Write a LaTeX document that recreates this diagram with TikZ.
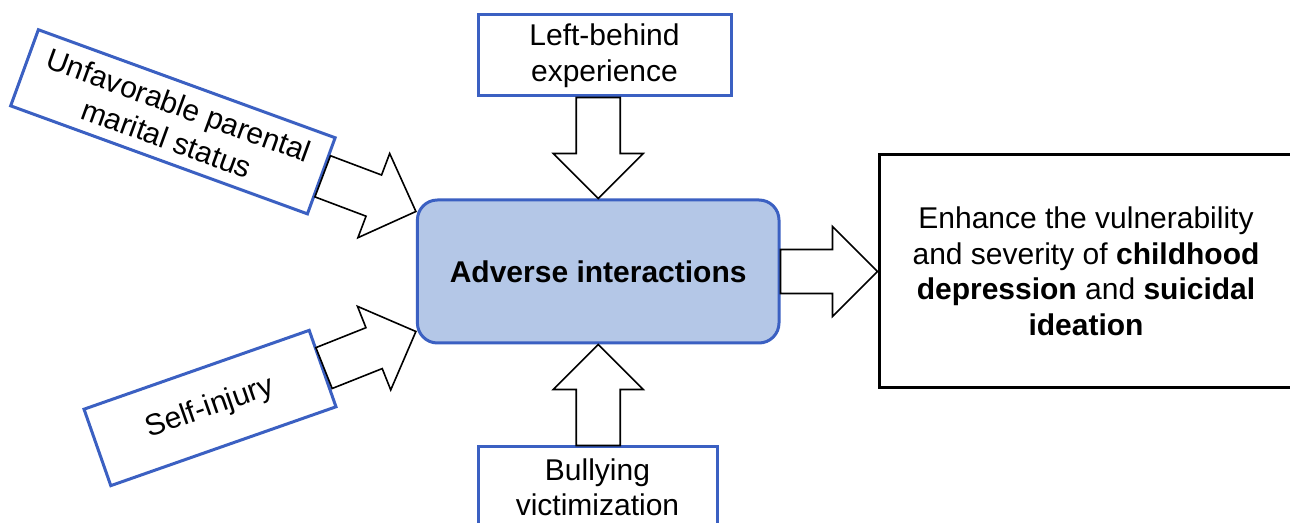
\documentclass[tikz,border=0pt]{standalone}
\usepackage{fontspec}
\setmainfont{Liberation Sans}
\usetikzlibrary{calc}
\definecolor{boxblue}{RGB}{59,96,194}
\definecolor{hubfill}{RGB}{180,199,231}
\tikzset{
  factorbox/.style={draw=boxblue, line width=1.5pt, fill=white, align=center, inner sep=2pt, minimum height=40.5pt, font=\fontsize{15pt}{17.75pt}\selectfont},
  hubbox/.style={draw=boxblue, line width=1.5pt, fill=hubfill, rounded corners=10pt, minimum width=180.8pt, minimum height=71.5pt, font=\fontsize{15pt}{17.75pt}\selectfont\bfseries},
  resultbox/.style={draw=black, line width=1.5pt, fill=white, align=center, minimum width=207pt, minimum height=116.5pt, font=\fontsize{15pt}{17.75pt}\selectfont},
  blockarrow/.style={draw=black, line width=0.8pt, fill=white, line join=miter},
}

\begin{document}
\begin{tikzpicture}[x=0.5pt, y=-0.5pt]
  \useasboundingbox (0,0) rectangle (1290,523);

  \node[hubbox] (inter) at (598.2,271.5) {Adverse interactions};

  \node[factorbox, minimum width=126.5pt] (left) at (604.5,55.5) {Left-behind\\experience};
  \node[factorbox, minimum width=119.5pt] (bully) at (597.5,487.5) {Bullying\\victimization};
  \node[factorbox, minimum width=157.9pt, rotate=-20] (ufps) at (172.9,121.8) {Unfavorable parental\\marital status};
  \node[factorbox, minimum width=119.3pt, rotate=19.3] (sinj) at (210,408) {Self-injury};

  \node[resultbox] (outcome) at (1086,271.5) {Enhance the vulnerability\\and severity of \textbf{childhood}\\\textbf{depression} and \textbf{suicidal}\\\textbf{ideation}};

  % entry points on the hub
  \coordinate (topS) at (inter.north |- left.south);
  \coordinate (botS) at (inter.south |- bully.north);
  \coordinate (inUL) at ($(inter.west)+(0,-60)$);
  \coordinate (inLL) at ($(inter.west)+(0,60)$);

  % block arrows: start / tip
  \foreach \s/\t in {topS/inter.north, botS/inter.south, ufps.east/inUL, sinj.east/inLL, inter.east/outcome.west} {
    \coordinate (hb) at ($(\t)!22.5pt!(\s)$);
    \draw[blockarrow] ($(\s)!11pt!90:(\t)$) -- ($(hb)!11pt!90:(\t)$) -- ($(hb)!22.5pt!90:(\t)$)
      -- (\t) -- ($(hb)!22.5pt!-90:(\t)$) -- ($(hb)!11pt!-90:(\t)$) -- ($(\s)!11pt!-90:(\t)$) -- cycle;
  }
\end{tikzpicture}
\end{document}
